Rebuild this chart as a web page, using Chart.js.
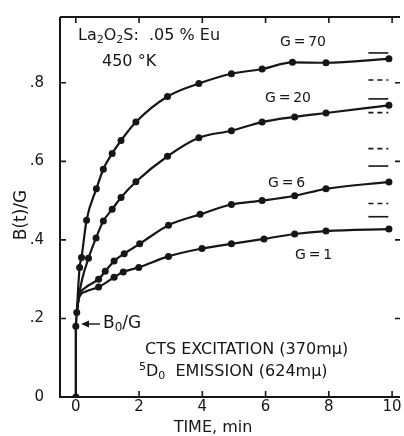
<!DOCTYPE html>
<html>
<head>
<meta charset="utf-8">
<script src="https://cdn.jsdelivr.net/npm/chart.js@4.4.0/dist/chart.umd.min.js"></script>
<style>
  html, body { margin: 0; padding: 0; background: #fff; }
  #wrap { width: 404px; height: 436px; }
</style>
</head>
<body>
<div id="wrap"><canvas id="myChart" width="404" height="436"></canvas></div>
<script>
// tick values / labels
const xTicks = [0, 2, 4, 6, 8, 10];
const xTickLabels = ['0', '2', '4', '6', '8', '10'];
const yTicks = [0, 0.2, 0.4, 0.6, 0.8];
const yTickLabels = ['0', '.2', '.4', '.6', '.8'];

// jump at t = 0, common to all curves
const riseT = [0, 0, 0.03];
const riseB = [0, 0.18, 0.215];

// G = 70
const lead70T = [0.03];
const lead70B = [0.215];
const t70 = [0.12, 0.18, 0.34, 0.65, 0.87, 1.15, 1.43, 1.9, 2.9, 3.89, 4.92, 5.89, 6.85, 7.91, 9.9];
const b70 = [0.33, 0.355, 0.45, 0.53, 0.58, 0.62, 0.653, 0.70, 0.765, 0.798, 0.823, 0.835, 0.852, 0.851, 0.861];

// G = 20
const lead20T = [0.03, 0.1, 0.2];
const lead20B = [0.215, 0.258, 0.30];
const t20 = [0.4, 0.64, 0.87, 1.15, 1.43, 1.9, 2.9, 3.89, 4.92, 5.89, 6.92, 7.91, 9.9];
const b20 = [0.353, 0.405, 0.448, 0.478, 0.508, 0.548, 0.613, 0.66, 0.678, 0.70, 0.713, 0.723, 0.7425];

// G = 6
const lead6T = [0.03, 0.1, 0.3];
const lead6B = [0.215, 0.255, 0.278];
const t6 = [0.72, 0.93, 1.21, 1.53, 2.02, 2.93, 3.93, 4.92, 5.89, 6.92, 7.91, 9.9];
const b6 = [0.30, 0.32, 0.346, 0.365, 0.39, 0.4375, 0.465, 0.49, 0.50, 0.5125, 0.53, 0.5475];

// G = 1
const lead1T = [0.03, 0.1, 0.3];
const lead1B = [0.215, 0.252, 0.268];
const t1 = [0.72, 1.21, 1.5, 1.99, 2.93, 3.99, 4.92, 5.95, 6.92, 7.91, 9.9];
const b1 = [0.28, 0.305, 0.318, 0.33, 0.358, 0.378, 0.39, 0.4025, 0.415, 0.4225, 0.4275];

// limit marks at right edge
const markT = [9.25, 9.88];
const solidMarks = [0.876, 0.759, 0.588, 0.459];
const dashedMarks = [0.807, 0.724, 0.6325, 0.4925];

const ink = '#161616';
const font = '"DejaVu Sans", sans-serif';

function pts(ts, bs) {
  return ts.map((x, i) => ({ x: x, y: bs[i] }));
}

function curve(lt, lb, t, b) {
  const n = lt.length;
  return {
    data: pts(lt, lb).concat(pts(t, b)),
    borderColor: ink,
    backgroundColor: ink,
    borderWidth: 2.2,
    cubicInterpolationMode: 'monotone',
    pointRadius: ctx => ctx.dataIndex < n ? 0 : 3.5,
    pointBorderWidth: 0
  };
}

function mark(v, dashed) {
  return {
    data: markT.map(x => ({ x: x, y: v })),
    borderColor: ink,
    borderWidth: 1.6,
    borderDash: dashed ? [5, 4] : [],
    pointRadius: 0,
    tension: 0
  };
}

const datasets = [
  {
    data: pts(riseT, riseB),
    borderColor: ink,
    backgroundColor: ink,
    borderWidth: 2.4,
    tension: 0,
    pointRadius: 3.5,
    pointBorderWidth: 0
  },
  curve(lead70T, lead70B, t70, b70),
  curve(lead20T, lead20B, t20, b20),
  curve(lead6T, lead6B, t6, b6),
  curve(lead1T, lead1B, t1, b1)
];
solidMarks.forEach(v => datasets.push(mark(v, false)));
dashedMarks.forEach(v => datasets.push(mark(v, true)));

// text with sub/superscripts: parts = [text, size, dy]
function rich(c, x, y, parts) {
  parts.forEach(p => {
    c.font = p[1] + 'px ' + font;
    c.fillText(p[0], x, y + p[2]);
    x += c.measureText(p[0]).width;
  });
}

// frame, inward ticks and lettering
const extras = {
  id: 'extras',
  afterDraw(chart) {
    const c = chart.ctx;
    const a = chart.chartArea;
    const xs = chart.scales.x;
    const ys = chart.scales.y;
    c.save();
    c.strokeStyle = ink;
    c.fillStyle = ink;
    c.lineWidth = 2;
    c.beginPath();
    c.moveTo(a.left, a.top);
    c.lineTo(a.right, a.top);
    c.moveTo(a.left, a.top);
    c.lineTo(a.left, a.bottom);
    c.lineTo(a.right, a.bottom);
    c.stroke();

    c.lineWidth = 1.6;
    c.beginPath();
    xTicks.forEach(v => {
      const px = xs.getPixelForValue(v);
      c.moveTo(px, a.bottom); c.lineTo(px, a.bottom - 6);
      c.moveTo(px, a.top); c.lineTo(px, a.top + 6);
    });
    yTicks.forEach(v => {
      if (v === 0) return;
      const py = ys.getPixelForValue(v);
      c.moveTo(a.left, py); c.lineTo(a.left + 6, py);
      c.moveTo(a.right, py); c.lineTo(a.right - 5, py);
    });
    c.stroke();

    c.font = '15px ' + font;
    c.textAlign = 'center';
    c.textBaseline = 'middle';
    xTicks.forEach((v, i) => {
      c.fillText(xTickLabels[i], xs.getPixelForValue(v), 407);
    });
    c.font = '16px ' + font;
    c.fillText('TIME, min', 213, 428);

    c.save();
    c.translate(22, 215);
    c.rotate(-Math.PI / 2);
    c.font = '17px ' + font;
    c.fillText('B(t)/G', 0, 0);
    c.restore();

    c.textAlign = 'left';
    rich(c, 78, 36, [['La', 16, 0], ['2', 11, 4], ['O', 16, 0], ['2', 11, 4], ['S:  .05 % Eu', 16, 0]]);
    c.font = '16px ' + font;
    c.fillText('450 \u00b0K', 102, 62);
    c.font = '14px ' + font;
    c.fillText('G\u2009=\u200970', 280, 42);
    c.fillText('G\u2009=\u200920', 265, 98);
    c.fillText('G\u2009=\u20096', 268, 183);
    c.fillText('G\u2009=\u20091', 295, 255);
    c.font = '16px ' + font;
    c.fillText('CTS EXCITATION (370m\u03bc)', 145, 350);
    rich(c, 139, 372, [['5', 11, -5], ['D', 16, 0], ['0', 11, 4], ['  EMISSION (624m\u03bc)', 16, 0]]);
    rich(c, 103, 324, [['B', 17, 0], ['0', 12, 4], ['/G', 17, 0]]);

    // arrow to B0/G point
    c.lineWidth = 1.4;
    c.beginPath();
    c.moveTo(100, 324); c.lineTo(85, 324);
    c.stroke();
    c.beginPath();
    c.moveTo(81, 324); c.lineTo(89, 320.5); c.lineTo(89, 327.5); c.closePath();
    c.fill();
    c.restore();
  }
};

new Chart(document.getElementById('myChart'), {
  type: 'line',
  data: { datasets: datasets },
  options: {
    responsive: false,
    animation: false,
    layout: { padding: { top: 10, right: 0, left: 0, bottom: 0 } },
    plugins: { legend: { display: false }, tooltip: { enabled: false } },
    scales: {
      x: {
        type: 'linear',
        min: -0.5,
        max: 10.25,
        grid: { display: false },
        border: { display: false },
        ticks: { display: false },
        afterFit: s => { s.height = 39; }
      },
      y: {
        type: 'linear',
        min: 0,
        max: 0.9675,
        grid: { display: false },
        border: { display: false },
        afterBuildTicks: s => { s.ticks = yTicks.map(v => ({ value: v })); },
        ticks: {
          color: ink,
          padding: 8,
          font: { family: font, size: 15 },
          callback: (v) => {
            const i = yTicks.indexOf(v);
            return i < 0 ? '' : yTickLabels[i];
          }
        },
        afterFit: s => { s.width = 60; }
      }
    }
  },
  plugins: [extras]
});
</script>
</body>
</html>
